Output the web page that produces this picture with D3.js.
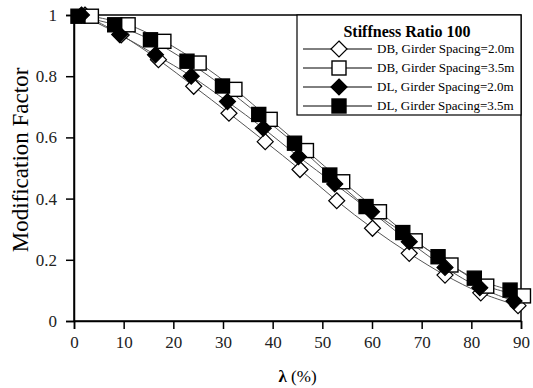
<!DOCTYPE html>
<html><head><meta charset="utf-8">
<script src="https://cdn.jsdelivr.net/npm/d3@7"></script>
<style>body{margin:0;background:#fff}svg{display:block}</style>
</head><body>
<svg id="c" width="533" height="388"></svg>
<script>
// Data
const seriesNames = ["DB, Girder Spacing=2.0m","DB, Girder Spacing=3.5m","DL, Girder Spacing=2.0m","DL, Girder Spacing=3.5m"];
const xDB20 = [2.2, 9.5, 17.0, 24.1, 31.2, 38.5, 45.5, 52.9, 60.1, 67.5, 74.7, 81.9, 89.4];
const yDB20 = [1.0, 0.935, 0.854, 0.767, 0.679, 0.586, 0.495, 0.393, 0.303, 0.221, 0.150, 0.092, 0.050];
const xDB35 = [3.5, 10.9, 18.1, 25.2, 32.4, 39.5, 46.8, 54.1, 61.5, 68.7, 75.9, 83.1, 90.5];
const yDB35 = [0.996, 0.968, 0.914, 0.843, 0.757, 0.659, 0.557, 0.455, 0.357, 0.262, 0.183, 0.114, 0.082];
const xDL20 = [1.5, 9.2, 16.4, 23.6, 30.9, 38.1, 45.2, 52.5, 59.9, 67.5, 74.7, 81.7, 88.6];
const yDL20 = [1.0, 0.936, 0.870, 0.800, 0.717, 0.630, 0.537, 0.448, 0.357, 0.259, 0.175, 0.109, 0.065];
const xDL35 = [0.8, 8.2, 15.4, 22.75, 29.9, 37.2, 44.4, 51.5, 58.8, 66.2, 73.3, 80.6, 87.8];
const yDL35 = [0.996, 0.968, 0.919, 0.849, 0.768, 0.675, 0.581, 0.477, 0.374, 0.289, 0.210, 0.140, 0.101];
const xTicks = [0,10,20,30,40,50,60,70,80,90];
const yTicks = [0,0.2,0.4,0.6,0.8,1];
const legendTitle = "Stiffness Ratio 100";

const series = [
  {name: seriesNames[0], xs: xDB20, ys: yDB20, shape: "diamond", filled: false},
  {name: seriesNames[1], xs: xDB35, ys: yDB35, shape: "square", filled: false},
  {name: seriesNames[2], xs: xDL20, ys: yDL20, shape: "diamond", filled: true},
  {name: seriesNames[3], xs: xDL35, ys: yDL35, shape: "square", filled: true}
];

const svg = d3.select("#c");
const m = {l:74, t:15, r:12, b:67};
const W = 533 - m.l - m.r, H = 388 - m.t - m.b;
const x = d3.scaleLinear().domain([0,90]).range([m.l, m.l+W]);
const y = d3.scaleLinear().domain([0,1]).range([m.t+H, m.t]);
const serif = "Liberation Serif, Times New Roman, serif";

// frame
svg.append("rect").attr("x", m.l).attr("y", m.t).attr("width", W).attr("height", H)
  .attr("fill","none").attr("stroke","#000").attr("stroke-width",1.5);

// axes
const xa = svg.append("g").attr("transform",`translate(0,${m.t+H})`)
  .call(d3.axisBottom(x).tickValues(xTicks).tickSize(8).tickPadding(7).tickFormat(d3.format("d")));
const ya = svg.append("g").attr("transform",`translate(${m.l},0)`)
  .call(d3.axisLeft(y).tickValues(yTicks).tickSize(8).tickPadding(9).tickFormat(d => d===0||d===1 ? String(d) : d.toFixed(1)));
[xa, ya].forEach(g => {
  g.attr("font-family", serif);
  g.select(".domain").attr("stroke","#000").attr("stroke-width",1.5);
  g.selectAll(".tick line").attr("stroke","#000").attr("stroke-width",1.5);
  g.selectAll("text").attr("font-family", serif).attr("font-size", 17).attr("fill","#222");
});

// axis titles
svg.append("text").attr("x", x(45)).attr("y", 382).attr("text-anchor","middle")
  .attr("font-family", serif).attr("font-size", 17)
  .call(t => { t.append("tspan").attr("font-weight","bold").text("λ"); t.append("tspan").text(" (%)"); });
svg.append("text").attr("transform",`translate(28,160) rotate(-90)`).attr("text-anchor","middle")
  .attr("font-family", serif).attr("font-size", 23).text("Modification Factor");

// markers
function drawMarker(g, shape, filled, cx, cy) {
  if (shape === "square") {
    g.append("rect").attr("x", cx-7).attr("y", cy-7).attr("width",14).attr("height",14)
      .attr("fill", filled ? "#000" : "#fff").attr("stroke","#000").attr("stroke-width",1.4);
  } else {
    const r = 8;
    g.append("path").attr("d", `M${cx},${cy-r}L${cx+r},${cy}L${cx},${cy+r}L${cx-r},${cy}Z`)
      .attr("fill", filled ? "#000" : "#fff").attr("stroke","#000").attr("stroke-width",1.2);
  }
}

const line = d3.line().x(d => x(d[0])).y(d => y(d[1])).curve(d3.curveCatmullRom);
series.forEach(s => {
  const pts = s.xs.map((v,i) => [v, s.ys[i]]);
  svg.append("path").attr("d", line(pts)).attr("fill","none").attr("stroke","#555").attr("stroke-width",1);
});
series.forEach(s => {
  const g = svg.append("g");
  s.xs.forEach((v,i) => drawMarker(g, s.shape, s.filled, x(v), y(s.ys[i])));
});

// legend
const lg = svg.append("g");
lg.append("rect").attr("x", 297).attr("y", m.t).attr("width", m.l+W-297).attr("height", 100)
  .attr("fill","#fff").attr("stroke","#000").attr("stroke-width",1.2);
lg.append("text").attr("x", 407).attr("y", 37).attr("text-anchor","middle")
  .attr("font-family", serif).attr("font-weight","bold").attr("font-size", 16).text(legendTitle);
series.forEach((s,i) => {
  const yy = 49 + i*19;
  lg.append("line").attr("x1",303).attr("x2",372).attr("y1",yy).attr("y2",yy).attr("stroke","#000").attr("stroke-width",1);
  drawMarker(lg, s.shape, s.filled, 339, yy);
  lg.append("text").attr("x",377).attr("y",yy+4).attr("font-family", serif).attr("font-size",13).text(s.name);
});
</script>
</body></html>
